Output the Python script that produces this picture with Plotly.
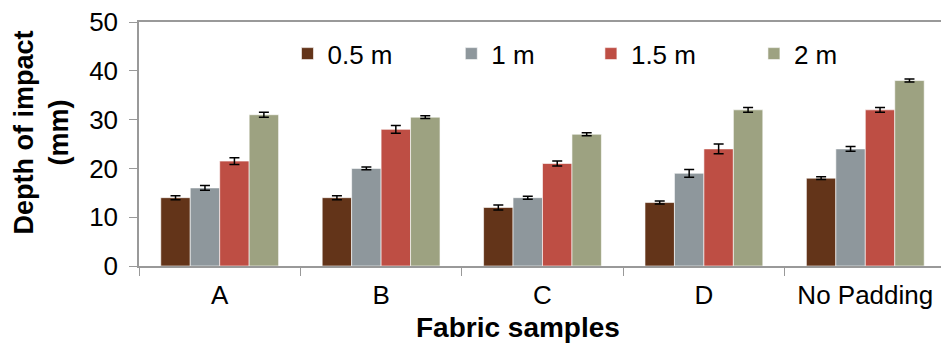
import plotly.graph_objects as go

categories = ["A", "B", "C", "D", "No Padding"]
series_names = ["0.5 m", "1 m", "1.5 m", "2 m"]
values_05 = [14, 14, 12, 13, 18]
values_1 = [16, 20, 14, 19, 24]
values_15 = [21.5, 28, 21, 24, 32]
values_2 = [31, 30.5, 27, 32, 38]
err_05 = [0.4, 0.4, 0.5, 0.3, 0.3]
err_1 = [0.5, 0.3, 0.3, 0.8, 0.5]
err_15 = [0.7, 0.8, 0.5, 1.0, 0.5]
err_2 = [0.5, 0.3, 0.3, 0.5, 0.3]
colors = ["#633419", "#8E979C", "#BE4E44", "#9DA281"]
legend_x = [0.184, 0.387, 0.560, 0.762]

FONT = "Arial, Liberation Sans, sans-serif"
fig = go.Figure()
legend_ids = ["legend", "legend2", "legend3", "legend4"]
for name, vals, errs, col, lid in zip(series_names, [values_05, values_1, values_15, values_2],
                                      [err_05, err_1, err_15, err_2], colors, legend_ids):
    fig.add_trace(go.Bar(
        x=categories, y=vals, name=name, legend=lid,
        marker=dict(color=col, line=dict(color="rgba(255,255,255,0.6)", width=1)),
        error_y=dict(type="data", array=errs, color="black", thickness=1.5, width=5),
    ))

layout_legends = {}
for lid, lx in zip(legend_ids, legend_x):
    layout_legends[lid] = dict(x=lx, y=0.87, xanchor="left", yanchor="middle",
                               font=dict(size=26, family=FONT, color="black"),
                               bgcolor="rgba(0,0,0,0)", borderwidth=0)

fig.update_layout(
    width=941, height=337,
    margin=dict(l=131, r=3, t=14, b=79),
    paper_bgcolor="white", plot_bgcolor="white",
    barmode="group", bargap=0.27, bargroupgap=0,
    font=dict(family=FONT, color="black", size=26),
    showlegend=True,
    **layout_legends,
)
fig.update_yaxes(range=[0, 50], dtick=10, showgrid=False, showline=True, mirror=True,
                 linecolor="#999999", linewidth=1.5, ticks="outside", ticklen=8,
                 tickcolor="#999999", tickfont=dict(size=26), automargin=False,
                 ticklabeloverflow="allow", ticklabelstandoff=6,
                 zeroline=False)
fig.update_xaxes(showline=True, mirror=True, linecolor="#999999", linewidth=1.5, ticks="outside",
                 tickson="boundaries", ticklen=8, tickcolor="#999999",
                 tickfont=dict(size=26), automargin=False,
                 ticklabeloverflow="allow", ticklabelstandoff=5)
fig.add_annotation(text="<b>Fabric samples</b>", xref="paper", yref="paper",
                   x=0.4697, y=-0.25, xanchor="center", yanchor="middle",
                   showarrow=False, font=dict(size=28, family=FONT, color="black"))
fig.add_annotation(text="<b>Depth of impact<br>(mm)</b>", xref="paper", yref="paper",
                   x=-0.121, y=0.549, xanchor="center", yanchor="middle", textangle=-90,
                   showarrow=False, font=dict(size=27, family=FONT, color="black"))
fig.write_html("out.html")
